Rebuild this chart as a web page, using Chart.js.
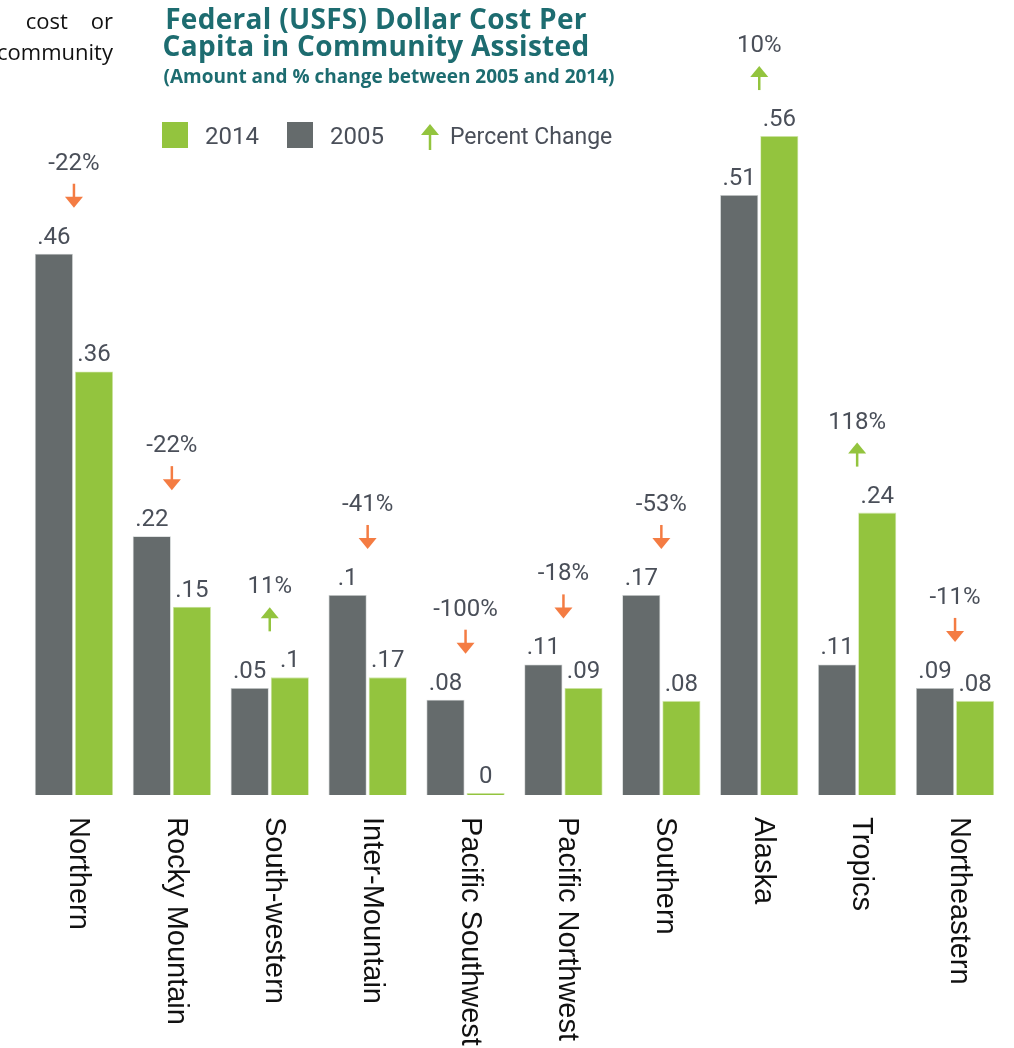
<!DOCTYPE html>
<html>
<head>
<meta charset="utf-8">
<script src="https://cdn.jsdelivr.net/npm/chart.js@4.4.1/dist/chart.umd.min.js"></script>
<style>
  html, body { margin: 0; padding: 0; background: #fff; }
  #wrap { position: relative; width: 1014px; height: 1048px; overflow: hidden; }
  #c { position: absolute; left: 0; top: 0; }
  .side { position: absolute; right: 901px; font-family: "Open Sans", sans-serif; font-size: 22px; color: #111; text-align: right; white-space: pre; }
  .title { position: absolute; left: 76px; width: 600px; text-align: center; font-family: "Open Sans", sans-serif; font-weight: 700; color: #1d6c70; white-space: nowrap; }
  .leg { position: absolute; font-family: Roboto, sans-serif; font-size: 24px; color: #4a4f59; white-space: nowrap; }
  .sw { position: absolute; width: 26px; height: 26px; }
</style>
</head>
<body>
<div id="wrap">
  <canvas id="c" width="1014" height="1048"></canvas>
  <div class="side" style="top:5px;">cost    or</div>
  <div class="side" style="top:36px;">community</div>
  <div class="title" style="top:5px; font-size:28px; line-height:27px; letter-spacing:0.3px;">Federal (USFS) Dollar Cost Per<br>Capita in Community Assisted</div>
  <div class="title" style="top:64px; left:89px; font-size:19px; line-height:24px;">(Amount and % change between 2005 and 2014)</div>
  <div class="sw" style="left:162px; top:122px; background:#93c43e;"></div>
  <div class="leg" style="left:205px; top:122px;">2014</div>
  <div class="sw" style="left:287px; top:122px; background:#656b6c;"></div>
  <div class="leg" style="left:330px; top:122px;">2005</div>
  <svg style="position:absolute; left:419px; top:124px;" width="22" height="26"><line x1="11" y1="8" x2="11" y2="26" stroke="#93c43e" stroke-width="2.5"/><polygon points="2,11 20,11 11,0" fill="#93c43e"/></svg>
  <div class="leg" style="left:450px; top:123px; font-size:23px;">Percent Change</div>
</div>
<script>
const categories = ["Northern","Rocky Mountain","South-western","Inter-Mountain","Pacific Southwest","Pacific Northwest","Southern","Alaska","Tropics","Northeastern"];
const values2005 = [0.46, 0.22, 0.091, 0.17, 0.081, 0.111, 0.17, 0.51, 0.111, 0.091];
const values2014 = [0.36, 0.16, 0.10, 0.10, 0, 0.091, 0.08, 0.56, 0.24, 0.08];
const labels2005 = [".46", ".22", ".05", ".1", ".08", ".11", ".17", ".51", ".11", ".09"];
const labels2014 = [".36", ".15", ".1", ".17", "0", ".09", ".08", ".56", ".24", ".08"];
const percentChange = ["-22%", "-22%", "11%", "-41%", "-100%", "-18%", "-53%", "10%", "118%", "-11%"];

const GRAY = "#656b6c", GREEN = "#93c43e", ORANGE = "#f47c43", TXT = "#4a4f59";

function drawArrow(ctx, x, yTop, yBottom, up, color) {
  const head = 11, hw = 9;
  ctx.save();
  ctx.strokeStyle = color; ctx.fillStyle = color; ctx.lineWidth = 2.5;
  ctx.beginPath();
  if (up) {
    ctx.moveTo(x, yTop + head - 2); ctx.lineTo(x, yBottom); ctx.stroke();
    ctx.beginPath(); ctx.moveTo(x - hw, yTop + head); ctx.lineTo(x + hw, yTop + head); ctx.lineTo(x, yTop); ctx.closePath(); ctx.fill();
  } else {
    ctx.moveTo(x, yTop); ctx.lineTo(x, yBottom - head + 2); ctx.stroke();
    ctx.beginPath(); ctx.moveTo(x - hw, yBottom - head); ctx.lineTo(x + hw, yBottom - head); ctx.lineTo(x, yBottom); ctx.closePath(); ctx.fill();
  }
  ctx.restore();
}

const annot = {
  id: "annot",
  afterDatasetsDraw(chart) {
    const ctx = chart.ctx;
    const xs = chart.scales.x;
    const m0 = chart.getDatasetMeta(0), m1 = chart.getDatasetMeta(1);
    const textSets = [labels2005, labels2014];
    ctx.save();
    ctx.font = "24px Roboto, sans-serif";
    ctx.fillStyle = TXT;
    ctx.textAlign = "center";
    ctx.textBaseline = "alphabetic";
    [m0, m1].forEach((meta, di) => {
      meta.data.forEach((bar, i) => {
        ctx.fillText(textSets[di][i], bar.x, bar.y - 10);
      });
    });
    categories.forEach((c, i) => {
      const cx = xs.getPixelForValue(i);
      const top = Math.min(m0.data[i].y, m1.data[i].y);
      const yBottom = top - 46;
      const yTop = yBottom - 24;
      const up = !percentChange[i].startsWith("-");
      drawArrow(ctx, cx, yTop, yBottom, up, up ? GREEN : ORANGE);
      ctx.fillStyle = TXT;
      ctx.fillText(percentChange[i], cx, yTop - 14);
    });
    // category labels, rotated clockwise
    ctx.fillStyle = "#111";
    ctx.font = "29px 'Liberation Sans', Arial, sans-serif";
    ctx.textAlign = "left";
    ctx.textBaseline = "middle";
    categories.forEach((c, i) => {
      const x = xs.getPixelForValue(i);
      ctx.save();
      ctx.translate(x + 4, chart.chartArea.bottom + 22);
      ctx.rotate(Math.PI / 2);
      ctx.fillText(c, 0, 0);
      ctx.restore();
    });
    ctx.restore();
  }
};

new Chart(document.getElementById("c"), {
  type: "bar",
  data: {
    labels: categories,
    datasets: [
      { label: "2005", data: values2005, backgroundColor: GRAY, borderColor: "#c9cdcd", borderWidth: 0.8, borderSkipped: "bottom" },
      { label: "2014", data: values2014, backgroundColor: GREEN, borderColor: "#d2e8ad", borderWidth: 0.8, borderSkipped: "bottom" }
    ]
  },
  options: {
    responsive: false,
    animation: false,
    events: [],
    minBarLength: 2,
    categoryPercentage: 0.82,
    barPercentage: 0.95,
    layout: { padding: { left: 25, right: 10, top: 89, bottom: 253 } },
    plugins: { legend: { display: false }, title: { display: false }, tooltip: { enabled: false } },
    scales: {
      x: { display: false },
      y: { display: false, min: 0, max: 0.6 }
    }
  },
  plugins: [annot]
});
</script>
</body>
</html>
